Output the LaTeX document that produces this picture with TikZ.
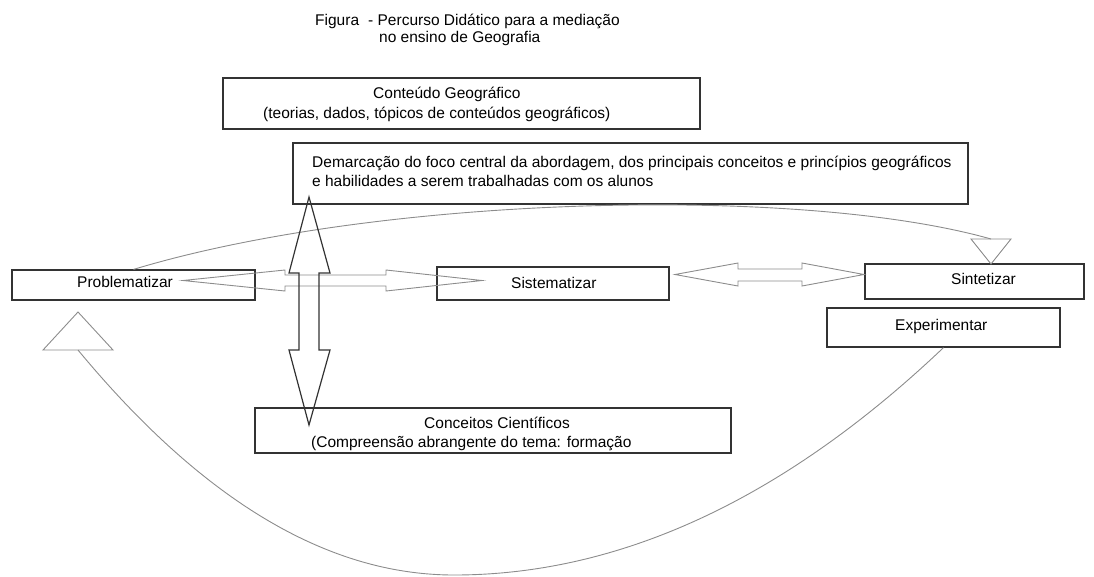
\documentclass[tikz,border=0pt]{standalone}
\usepackage{fontspec}
\setmainfont{Liberation Sans}
\definecolor{edge}{HTML}{333333}
\definecolor{faint}{HTML}{8C8C8C}
\tikzset{
  box/.style={draw=edge, line width=1.2pt, inner sep=0pt},
  txt/.style={font=\fontsize{15.5}{19}\selectfont, inner sep=0pt, anchor=base west},
  thinarrow/.style={draw=faint, line width=0.9pt, line join=miter},
  fatarrow/.style={draw=edge, line width=1.2pt, line join=miter},
  curve/.style={draw=faint, line width=0.9pt},
}
\begin{document}
\begin{tikzpicture}[x=1pt,y=-1pt]
\useasboundingbox (0,0) rectangle (1094,576);

% title
\node[txt] (figura) at (315,25) {Figura};
\node[txt] (titleA) at (368,25) {- Percurso Didático para a mediação};
\node[txt] (titleB) at (379,42) {no ensino de Geografia};

% boxes
\node[box, minimum width=477pt, minimum height=51pt] (conteudo) at (461.5,103.5) {};
\node[box, minimum width=675pt, minimum height=61pt] (demarcacao) at (630.5,173.5) {};
\node[box, minimum width=243pt, minimum height=30pt] (problematizar) at (133.5,285) {};
\node[box, minimum width=232pt, minimum height=33pt] (sistematizar) at (553,283.5) {};
\node[box, minimum width=219pt, minimum height=35pt] (sintetizar) at (974.5,281.5) {};
\node[box, minimum width=233pt, minimum height=39pt] (experimentar) at (943.5,327.5) {};
\node[box, minimum width=476pt, minimum height=45pt] (conceitos) at (493,430.5) {};

% texts
\node[txt] (conteudoA) at (373,98) {Conteúdo Geográfico};
\node[txt] (conteudoB) at (263,118) {(teorias, dados, tópicos de conteúdos geográficos)};
\node[txt] (demarcacaoA) at (312,167) {Demarcação do foco central da abordagem, dos principais conceitos e princípios geográficos};
\node[txt] (demarcacaoB) at (312,186) {e habilidades a serem trabalhadas com os alunos};
\node[txt] (problematizarT) at (77,287) {Problematizar};
\node[txt] (sistematizarT) at (511,288) {Sistematizar};
\node[txt] (sintetizarT) at (951,284) {Sintetizar};
\node[txt] (experimentarT) at (895,330) {Experimentar};
\node[txt] (conceitosA) at (424,428) {Conceitos Científicos};
\node[txt] (conceitosB) at (311,447) {(Compreensão abrangente do tema: formação};

% triangles
\coordinate (uptri) at (78,350);
\coordinate (downtri) at (991,239);
\draw[thinarrow] (78,312) -- (113,350) -- (43,350) -- cycle;
\draw[thinarrow] (971,239) -- (1011,239) -- (991,264) -- cycle;

% curves
\draw[curve] (problematizar.north) .. controls (380,195) and (800,185) .. (downtri);
\draw[curve] (uptri) .. controls (203,501) and (328,575) .. (454,575)
  .. controls (618,575) and (782,501) .. (experimentar.south);

% double arrows
\draw[thinarrow] (183,280.5) -- (285,270) -- (285,275) -- (386,275) -- (386,270) -- (482,280.5)
  -- (386,291) -- (386,286) -- (285,286) -- (285,291) -- cycle;
\draw[thinarrow] (675,274.5) -- (738,263) -- (738,269) -- (802,269) -- (802,263) -- (864,274.5)
  -- (802,286) -- (802,281) -- (738,281) -- (738,286) -- cycle;
\draw[fatarrow] (309,197) -- (330,273) -- (319,273) -- (319,350) -- (330,350) -- (309,425)
  -- (289,350) -- (299,350) -- (299,273) -- (289,273) -- cycle;
\end{tikzpicture}
\end{document}
